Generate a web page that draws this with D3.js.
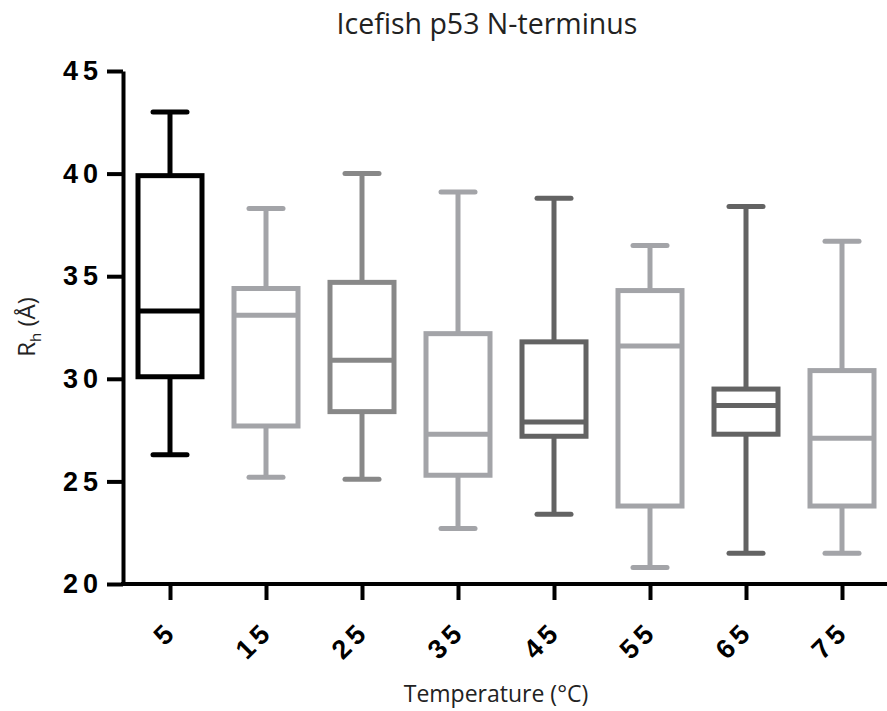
<!DOCTYPE html>
<html>
<head>
<meta charset="utf-8">
<script src="https://cdn.jsdelivr.net/npm/d3@7"></script>
<style>
  body { margin: 0; background: #fff; }
  svg { display: block; }
</style>
</head>
<body>
<div id="container"></div>
<script>
/* DATA */
const temps       = ["5", "15", "25", "35", "45", "55", "65", "75"];
const whiskerLow  = [26.3, 25.2, 25.1, 22.7, 23.4, 20.8, 21.5, 21.5];
const q1          = [30.1, 27.7, 28.4, 25.3, 27.2, 23.8, 27.3, 23.8];
const medians     = [33.3, 33.1, 30.9, 27.3, 27.9, 31.6, 28.7, 27.1];
const q3          = [39.9, 34.4, 34.7, 32.2, 31.8, 34.3, 29.5, 30.4];
const whiskerHigh = [43.0, 38.3, 40.0, 39.1, 38.8, 36.5, 38.4, 36.7];
const yTicks      = [20, 25, 30, 35, 40, 45];

/* STYLE */
const boxColors = ["#000000", "#a3a4a8", "#888888", "#a3a4a8", "#636363", "#a3a4a8", "#636363", "#a3a4a8"];

/* CONSTANTS */
const width = 887, height = 711;
const margin = { top: 71, right: 0, bottom: 127, left: 123 };
const boxW = 64, capW = 34, strokeW = 5;

const rows = temps.map((t, i) => ({
  t, lo: whiskerLow[i], q1: q1[i], med: medians[i], q3: q3[i], hi: whiskerHigh[i], color: boxColors[i]
}));

const svg = d3.select("#container")
  .append("svg")
  .attr("width", width)
  .attr("height", height);

/* SCALES */
const xScale = d3.scalePoint()
  .domain(temps)
  .range([122, 890])
  .padding(0.5);

const yScale = d3.scaleLinear()
  .domain([20, 45])
  .range([height - margin.bottom, margin.top]);

/* AXES */
const tickFont = "'Liberation Sans', Arial, sans-serif";

const yAxis = svg.append("g")
  .attr("transform", `translate(${margin.left}, 0)`)
  .call(d3.axisLeft(yScale).tickValues(yTicks).tickSize(16).tickSizeOuter(0).tickPadding(9));
yAxis.select(".domain").attr("stroke", "#000").attr("stroke-width", 4);
yAxis.selectAll(".tick line").attr("stroke", "#000").attr("stroke-width", 4);
yAxis.selectAll(".tick text")
  .attr("font-family", tickFont)
  .attr("font-weight", "bold")
  .attr("font-size", 27)
  .attr("letter-spacing", 5)
  .attr("dx", 5)
  .attr("fill", "#000");

const xAxis = svg.append("g")
  .attr("transform", `translate(0, ${yScale(20)})`)
  .call(d3.axisBottom(xScale).tickSize(16).tickSizeOuter(0));
xAxis.select(".domain")
  .attr("d", `M${margin.left - 2},0H${width}`)
  .attr("stroke", "#000").attr("stroke-width", 4);
xAxis.selectAll(".tick line").attr("stroke", "#000").attr("stroke-width", 4);
xAxis.selectAll(".tick text")
  .attr("font-family", tickFont)
  .attr("font-weight", "bold")
  .attr("font-size", 27)
  .attr("letter-spacing", 5)
  .attr("fill", "#000")
  .attr("text-anchor", "end")
  .attr("y", 0)
  .attr("dy", 0)
  .attr("dx", 5)
  .attr("transform", "translate(5, 52) rotate(-45)");

/* BOXES */
const boxes = svg.append("g")
  .selectAll("g")
  .data(rows)
  .join("g")
  .attr("stroke", d => d.color)
  .attr("stroke-width", strokeW)
  .attr("fill", "none");

// whiskers
boxes.append("line")
  .attr("x1", d => xScale(d.t)).attr("x2", d => xScale(d.t))
  .attr("y1", d => yScale(d.hi)).attr("y2", d => yScale(d.q3));
boxes.append("line")
  .attr("x1", d => xScale(d.t)).attr("x2", d => xScale(d.t))
  .attr("y1", d => yScale(d.q1)).attr("y2", d => yScale(d.lo));

// caps
boxes.selectAll(".cap")
  .data(d => [d.hi, d.lo])
  .join("line")
  .attr("class", "cap")
  .attr("stroke-linecap", "round")
  .attr("x1", function() { return xScale(d3.select(this.parentNode).datum().t) - capW / 2; })
  .attr("x2", function() { return xScale(d3.select(this.parentNode).datum().t) + capW / 2; })
  .attr("y1", v => yScale(v))
  .attr("y2", v => yScale(v));

// box
boxes.append("rect")
  .attr("x", d => xScale(d.t) - boxW / 2)
  .attr("width", boxW)
  .attr("y", d => yScale(d.q3))
  .attr("height", d => yScale(d.q1) - yScale(d.q3))
  .attr("fill", "#fff");

// median
boxes.append("line")
  .attr("x1", d => xScale(d.t) - boxW / 2).attr("x2", d => xScale(d.t) + boxW / 2)
  .attr("y1", d => yScale(d.med)).attr("y2", d => yScale(d.med));

/* LABELS */
const labelFont = "'Open Sans', 'Noto Sans', sans-serif";

svg.append("text")
  .attr("x", 487)
  .attr("y", 34)
  .attr("text-anchor", "middle")
  .attr("font-family", labelFont)
  .attr("font-size", 28.5)
  .attr("fill", "#222")
  .text("Icefish p53 N-terminus");

svg.append("text")
  .attr("x", 496)
  .attr("y", 702)
  .attr("text-anchor", "middle")
  .attr("font-family", labelFont)
  .attr("font-size", 23)
  .attr("fill", "#222")
  .text("Temperature (°C)");

const yTitle = svg.append("text")
  .attr("transform", "translate(35, 327) rotate(-90)")
  .attr("text-anchor", "middle")
  .attr("font-family", labelFont)
  .attr("font-size", 24)
  .attr("fill", "#222");
yTitle.append("tspan").text("R");
yTitle.append("tspan").attr("font-size", 15).attr("dy", 6).text("h");
yTitle.append("tspan").attr("dy", -6).text(" (Å)");
</script>
</body>
</html>
